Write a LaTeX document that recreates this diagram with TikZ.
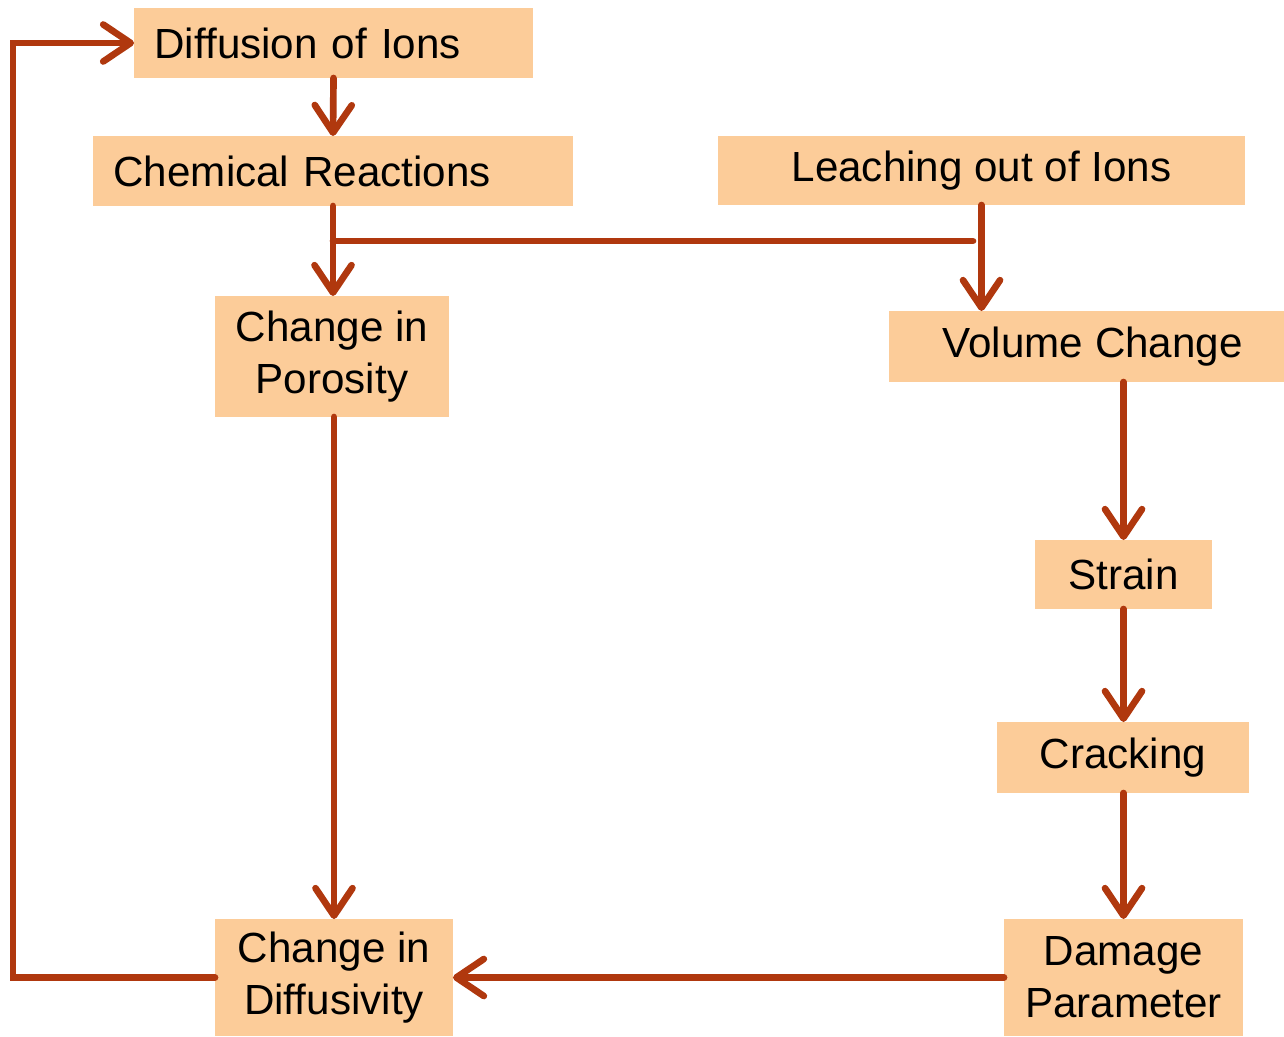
\documentclass[tikz,border=0pt]{standalone}
\usepackage{fontspec}
\setmainfont{Liberation Sans}
\usetikzlibrary{arrows.meta}
\definecolor{boxfill}{RGB}{252,204,153}
\definecolor{linkred}{RGB}{176,56,14}
\tikzset{
  box/.style={fill=boxfill, inner sep=0pt, outer sep=0pt, align=center,
    font=\fontsize{24}{29.5}\selectfont},
  leftbox/.style={box, align=left, inner xsep=0.41cm},
  link/.style={draw=linkred, line width=3.8pt, line cap=round},
  arr/.style={link, -{Straight Barb[length=0.55cm, width=0.74cm, round]}}
}
\begin{document}
\begin{tikzpicture}[x=0.02cm, y=-0.02cm]
\useasboundingbox (0,0) rectangle (1284,1037);

% Left column
\node[leftbox, text width=7.16cm, minimum height=1.4cm] (diff) at (333.5,43) {Diffusion of Ions};
\node[leftbox, text width=8.78cm, minimum height=1.4cm] (chem) at (333,171) {Chemical Reactions};
\node[box, minimum width=4.68cm, minimum height=2.42cm] (poro) at (332,356.5) {Change in\\Porosity};
\node[box, minimum width=4.76cm, minimum height=2.34cm] (diffus) at (334,977.5) {Change in\\Diffusivity};

% Right column
\node[box, minimum width=10.54cm, minimum height=1.38cm] (leach) at (981.5,170.5) {Leaching out of Ions};
\node[box, minimum width=7.9cm, minimum height=1.42cm] (vol) at (1086.5,346.5) {\hspace*{0.25cm}Volume Change};
\node[box, minimum width=3.54cm, minimum height=1.38cm] (strain) at (1123.5,574.5) {Strain};
\node[box, minimum width=5.06cm, minimum height=1.42cm] (crack) at (1123,757.5) {Cracking};
\node[box, minimum width=4.78cm, minimum height=2.34cm] (dmg) at (1123.5,977.5) {Damage\\Parameter};

% Links
\coordinate (join) at (973,241);
\draw[arr] (diff.south) -- (chem.north);
\draw[arr] (chem.south) -- (chem.south |- poro.north);
\draw[link] (join -| chem.south) -- (join);
\draw[arr] (leach.south) -- (leach.south |- vol.north);
\draw[arr] (strain.north |- vol.south) -- (strain.north);
\draw[arr] (strain.south) -- (strain.south |- crack.north);
\draw[arr] (strain.south |- crack.south) -- (strain.south |- dmg.north);
\draw[arr] (diffus.north |- poro.south) -- (diffus.north);
\draw[arr] (dmg.west) -- (diffus.east);
\draw[arr] (diffus.west) -- ++(-202,0) |- (diff.west);
\end{tikzpicture}
\end{document}
